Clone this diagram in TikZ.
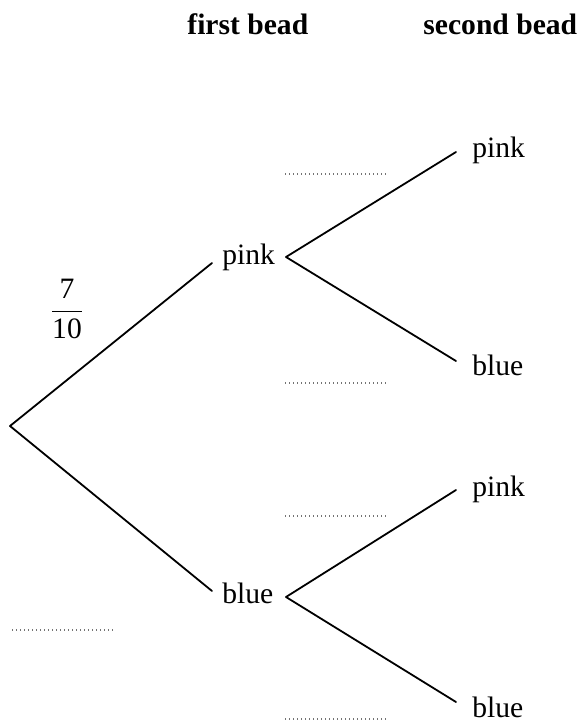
\documentclass[tikz,border=0pt]{standalone}
\usepackage{fontspec}
\setmainfont{Liberation Serif}
\usepackage{amsmath}
\begin{document}
\begin{tikzpicture}[x=0.5pt,y=-0.5pt,
  branch/.style={line width=0.9pt,line cap=round,line join=round},
  dotline/.style={line width=0.55pt,black!55,dash pattern=on 0.5pt off 1.5pt},
  lab/.style={anchor=base west,inner sep=0pt,font=\fontsize{14.8}{17}\selectfont},
  head/.style={anchor=base west,inner sep=0pt,font=\fontsize{14.8}{17}\selectfont\bfseries}]
\useasboundingbox (0,0) rectangle (577,724);
% headings
\node[head] (h1) at (187,34) {first bead};
\node[head] (h2) at (423,34) {second bead};
% tree points
\coordinate (R) at (10,426);
\coordinate (A1) at (212,263);
\coordinate (A2) at (212,591);
\coordinate (P) at (286,257);
\coordinate (PP) at (456,152);
\coordinate (PB) at (456,361);
\coordinate (B) at (286,597);
\coordinate (BP) at (456,490);
\coordinate (BB) at (456,702);
% labels
\node[lab] (pink1) at (222,264) {pink};
\node[lab] (blue1) at (222,603) {blue};
\node[lab] (pinkA) at (472,157) {pink};
\node[lab] (blueA) at (472,375) {blue};
\node[lab] (pinkB) at (472,496) {pink};
\node[lab] (blueB) at (472,717) {blue};
% fraction
\node[inner sep=0pt,font=\fontsize{14.8}{17}\selectfont] (frac) at (67,309) {$\dfrac{\mathrm{7}}{\mathrm{10}}$};
% branches
\draw[branch] (A1) -- (R) -- (A2);
\draw[branch] (PP) -- (P) -- (PB);
\draw[branch] (BP) -- (B) -- (BB);
% dotted answer lines
\coordinate (d1a) at (285,174); \coordinate (d1b) at (388,174);
\coordinate (d2a) at (285,383); \coordinate (d2b) at (388,383);
\coordinate (d3a) at (285,516); \coordinate (d3b) at (388,516);
\coordinate (d4a) at (12,630);  \coordinate (d4b) at (115,630);
\coordinate (d5a) at (285,719); \coordinate (d5b) at (388,719);
\draw[dotline] (d1a) -- (d1b);
\draw[dotline] (d2a) -- (d2b);
\draw[dotline] (d3a) -- (d3b);
\draw[dotline] (d4a) -- (d4b);
\draw[dotline] (d5a) -- (d5b);
\end{tikzpicture}
\end{document}
